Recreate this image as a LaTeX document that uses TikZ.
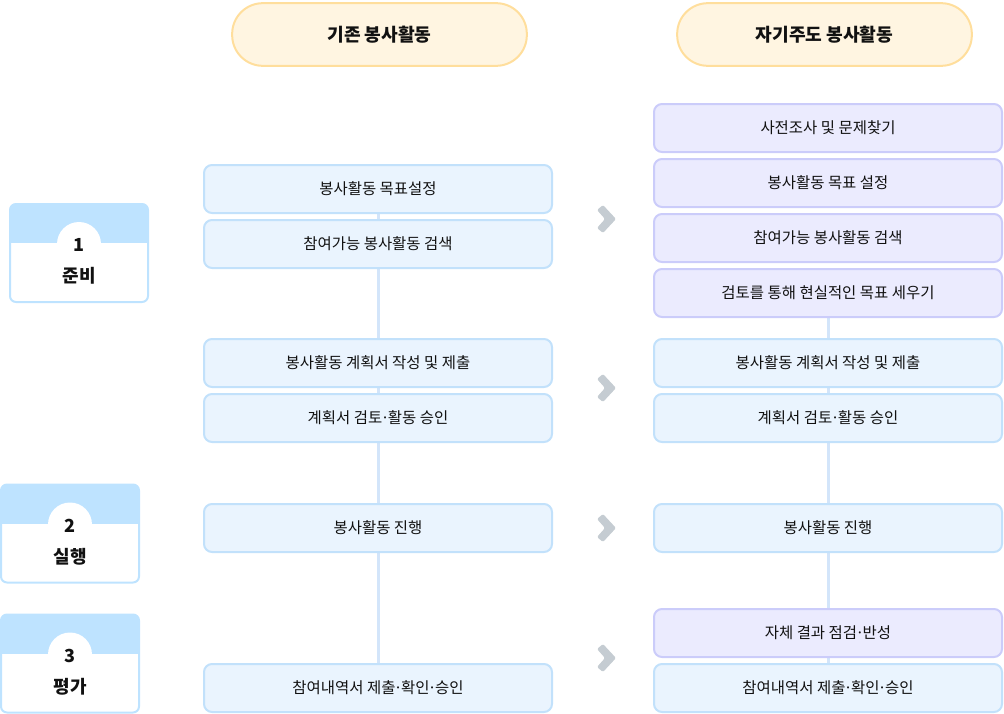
\documentclass[tikz,border=0pt]{standalone}
\usepackage{fontspec}
\setmainfont{Noto Sans CJK KR}
\usetikzlibrary{backgrounds}

\definecolor{ink}{HTML}{111111}
\definecolor{boxfill}{HTML}{EAF4FE}
\definecolor{boxline}{HTML}{C2E1FB}
\definecolor{selffill}{HTML}{EBEBFE}
\definecolor{selfline}{HTML}{CBCCFA}
\definecolor{headfill}{HTML}{FFF5E1}
\definecolor{headline}{HTML}{FFDE9C}
\definecolor{linkcol}{HTML}{D3E5FA}
\definecolor{chevcol}{HTML}{C5CCD2}
\definecolor{stageband}{HTML}{BEE3FF}

\newcommand\mdot{\kern-0.1em·\kern-0.1em}

\begin{document}
\begin{tikzpicture}[x=0.75pt,y=-0.75pt,
  stepbox/.style={draw=boxline,fill=boxfill,line width=1.5pt,rounded corners=6pt,
    minimum width=261pt,minimum height=36pt,text=ink,font=\fontsize{11.6}{13}\selectfont},
  selfbox/.style={stepbox,draw=selfline,fill=selffill},
  headbox/.style={draw=headline,fill=headfill,line width=1.5pt,rounded corners=23pt,
    minimum width=221pt,minimum height=47pt,text=ink,font=\fontsize{13.6}{15}\bfseries},
  link/.style={draw=linkcol,line width=2.25pt},
  stagenum/.style={text=ink,font=\fontsize{13.5}{15}\bfseries},
  stagename/.style={text=ink,font=\fontsize{13.5}{15}\bfseries}]

\useasboundingbox (0,0) rectangle (1004,714);

\node[headbox] (H1) at (379.5,34.5) {기존 봉사활동};
\node[headbox] (H2) at (824.5,34.5) {자기주도 봉사활동};

\node[stepbox] (L1) at (378,189) {봉사활동 목표설정};
\node[stepbox] (L2) at (378,244) {참여가능 봉사활동 검색};
\node[stepbox] (L3) at (378,363) {봉사활동 계획서 작성 및 제출};
\node[stepbox] (L4) at (378,418) {계획서 검토\mdot 활동 승인};
\node[stepbox] (L5) at (378,528) {봉사활동 진행};
\node[stepbox] (L6) at (378,688) {참여내역서 제출\mdot 확인\mdot 승인};

\node[selfbox] (R1) at (828,128) {사전조사 및 문제찾기};
\node[selfbox] (R2) at (828,183) {봉사활동 목표 설정};
\node[selfbox] (R3) at (828,238) {참여가능 봉사활동 검색};
\node[selfbox] (R4) at (828,293) {검토를 통해 현실적인 목표 세우기};
\node[stepbox] (R5) at (828,363) {봉사활동 계획서 작성 및 제출};
\node[stepbox] (R6) at (828,418) {계획서 검토\mdot 활동 승인};
\node[stepbox] (R7) at (828,528) {봉사활동 진행};
\node[selfbox] (R8) at (828,633) {자체 결과 점검\mdot 반성};
\node[stepbox] (R9) at (828,688) {참여내역서 제출\mdot 확인\mdot 승인};

\begin{scope}[on background layer]
\draw[link] (L1) -- (L2) -- (L3) -- (L4) -- (L5) -- (L6);
\draw[link] (R4) -- (R5) -- (R6) -- (R7) -- (R8) -- (R9);
\end{scope}

% chevrons between the columns
\foreach \y in {219,388,528,658}
  \fill[chevcol,rounded corners=1pt] (597,\y-9) -- (603,\y-14) -- (616,\y) -- (603,\y+14) -- (597,\y+9) -- (605,\y) -- cycle;

% stages
\foreach \x/\y/\n/\t in {79/253/1/준비, 70/533.5/2/실행, 70/663.5/3/평가}{
  \begin{scope}
    \clip[rounded corners=4.5pt] (\x-69,\y-49) rectangle (\x+69,\y+49);
    \fill[stageband] (\x-69,\y-49) rectangle (\x+69,\y-10);
    \fill[white] (\x,\y-9) circle (22);
  \end{scope}
  \draw[draw=stageband,line width=1.5pt,rounded corners=4.5pt] (\x-69,\y-49) rectangle (\x+69,\y+49);
  \node[stagenum] (N\n) at (\x,\y-8) {\n};
  \node[stagename] (T\n) at (\x,\y+23) {\t};
}

\end{tikzpicture}
\end{document}
